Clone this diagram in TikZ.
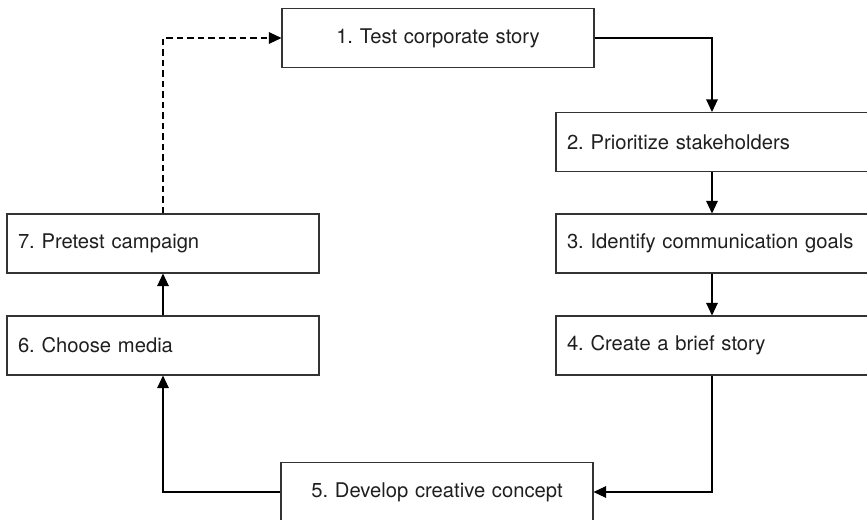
\documentclass[tikz,border=0pt]{standalone}
\usepackage{fontspec}
\setmainfont{TeX Gyre Heros}
\usetikzlibrary{arrows.meta}
\frenchspacing

\begin{document}
\begin{tikzpicture}[
  >={Triangle[length=2.5mm, width=2.3mm]}, line width=0.6pt,
  every node/.style={font=\fontsize{11.5}{14}\selectfont, text=black!88},
  stepl/.style={draw=black!80, minimum height=1.18cm, text width=5.8cm,
    inner xsep=0.22cm, align=left},
  stepc/.style={stepl, align=center}]

  \useasboundingbox (0,0) rectangle (17.34,10.38);

  % columna derecha
  \node[stepc] (t1) at (8.76,9.62)  {1. Test corporate story};
  \node[stepl] (t2) at (14.24,7.54) {2. Prioritize stakeholders};
  \node[stepl] (t3) at (14.24,5.51) {3. Identify communication goals};
  \node[stepl] (t4) at (14.24,3.47) {4. Create a brief story};

  % abajo y columna izquierda
  \node[stepc] (t5) at (8.74,0.54)  {5. Develop creative concept};
  \node[stepl] (t6) at (3.26,3.47)  {6. Choose media};
  \node[stepl] (t7) at (3.26,5.51)  {7. Pretest campaign};

  \draw[->] (t1) -| (t2);
  \draw[->] (t2) -- (t3);
  \draw[->] (t3) -- (t4);
  \draw[->] (t4) |- (t5);
  \draw[->] (t5) -| (t6);
  \draw[->] (t6) -- (t7);

  % vuelta al inicio
  \draw[->, dash pattern=on 1.3mm off 0.8mm] (t7) |- (t1);
\end{tikzpicture}
\end{document}
